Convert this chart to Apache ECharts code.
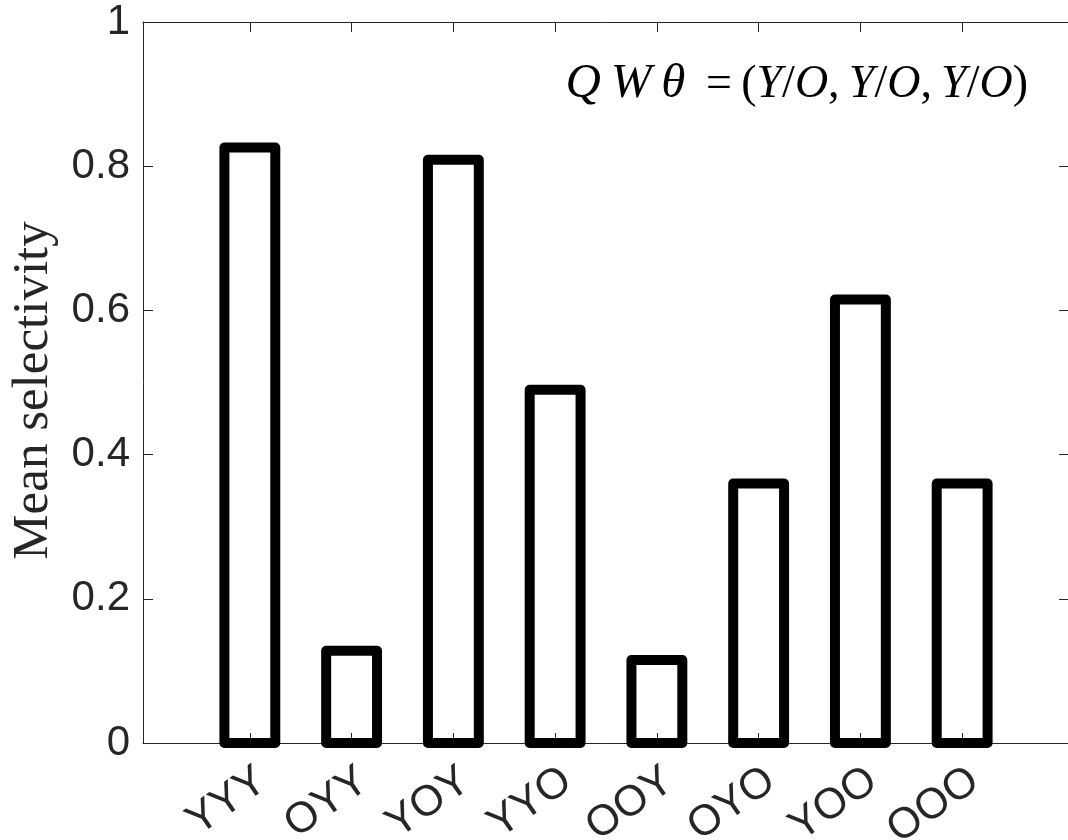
<!DOCTYPE html>
<html>
<head>
<meta charset="utf-8">
<script src="https://cdn.jsdelivr.net/npm/echarts@6/dist/echarts.min.js"></script>
<style>
  html, body { margin: 0; padding: 0; background: #fff; }
  #chart { width: 1068px; height: 840px; }
</style>
</head>
<body>
<div id="chart"></div>
<script>
// Category labels along the x axis
const categories = ['YYY', 'OYY', 'YOY', 'YYO', 'OOY', 'OYO', 'YOO', 'OOO'];
// Mean selectivity per category
const selectivity = [0.826, 0.128, 0.809, 0.49, 0.115, 0.36, 0.615, 0.36];
// Positions of the categories on the x scale
const positions = categories.map((c, i) => i + 1);
// Bar width in x-scale units
const barFraction = 0.5;

const axisColor = '#262626';
const sansFont = '"Liberation Sans", Arial, Helvetica, sans-serif';
const serifFont = '"Liberation Serif", "Times New Roman", serif';

const chart = echarts.init(document.getElementById('chart'), null, { renderer: 'canvas' });

const frameX = (pos, showLabels) => ({
  type: 'value',
  position: pos,
  min: -0.05,
  max: 9.05,
  axisLine: { show: true, onZero: false, lineStyle: { color: axisColor, width: 1 } },
  axisTick: { show: true, inside: true, length: 10, customValues: positions, lineStyle: { color: axisColor } },
  axisLabel: showLabels ? {
    show: true,
    customValues: positions,
    formatter: v => categories[Math.round(v) - 1],
    rotate: 35,
    verticalAlign: 'top',
    fontSize: 43,
    fontFamily: sansFont,
    color: axisColor,
    margin: 16
  } : { show: false },
  splitLine: { show: false }
});

const frameY = (pos, showLabels) => ({
  type: 'value',
  position: pos,
  min: 0,
  max: 1,
  interval: 0.2,
  axisLine: { show: true, onZero: false, lineStyle: { color: axisColor, width: 1 } },
  axisTick: { show: true, inside: true, length: 10, lineStyle: { color: axisColor } },
  axisLabel: showLabels ? {
    show: true,
    fontSize: 42,
    fontFamily: sansFont,
    color: axisColor,
    margin: 13
  } : { show: false },
  splitLine: { show: false }
});

const leftY = frameY('left', true);
leftY.name = 'Mean selectivity';
leftY.nameLocation = 'middle';
leftY.nameGap = 84;
leftY.nameTextStyle = { fontFamily: serifFont, fontSize: 51, color: axisColor, padding: [0, 16, 0, 0] };

const it = { fontFamily: serifFont, fontStyle: 'italic', fontWeight: 'normal', fontSize: 46, color: '#000' };
const bigIt = { fontFamily: serifFont, fontStyle: 'italic', fontWeight: 'normal', fontSize: 49, color: '#000' };
const up = { fontFamily: serifFont, fontStyle: 'normal', fontWeight: 'normal', fontSize: 46, color: '#000' };

chart.setOption({
  animation: false,
  backgroundColor: '#ffffff',
  title: {
    text: '{q|Q\u2009W\u2009\u03b8}{u| \u2009=\u2009(}{i|Y}{u|/}{i|O}{u|,\u2009}{i|Y}{u|/}{i|O}{u|,\u2009}{i|Y}{u|/}{i|O}{u|)}',
    right: 40,
    top: 60,
    padding: 0,
    textStyle: { fontWeight: 'normal', rich: { i: it, q: bigIt, u: up } }
  },
  grid: { left: 143, right: -1, top: 22, bottom: 97, outerBoundsMode: 'none' },
  xAxis: [frameX('bottom', true), frameX('top', false)],
  yAxis: [leftY, frameY('right', false)],
  series: [{
    type: 'custom',
    xAxisIndex: 0,
    yAxisIndex: 0,
    data: positions.map((p, i) => [p, selectivity[i]]),
    encode: { x: 0, y: 1 },
    renderItem: (params, api) => {
      const top = api.coord([api.value(0), api.value(1)]);
      const base = api.coord([api.value(0), 0]);
      const w = api.size([barFraction, 0])[0];
      return {
        type: 'rect',
        shape: { x: top[0] - w / 2, y: top[1], width: w, height: base[1] - top[1] },
        style: { fill: 'none', stroke: '#000', lineWidth: 10, lineJoin: 'round' }
      };
    },
    emphasis: { disabled: true }
  }]
});
</script>
</body>
</html>
